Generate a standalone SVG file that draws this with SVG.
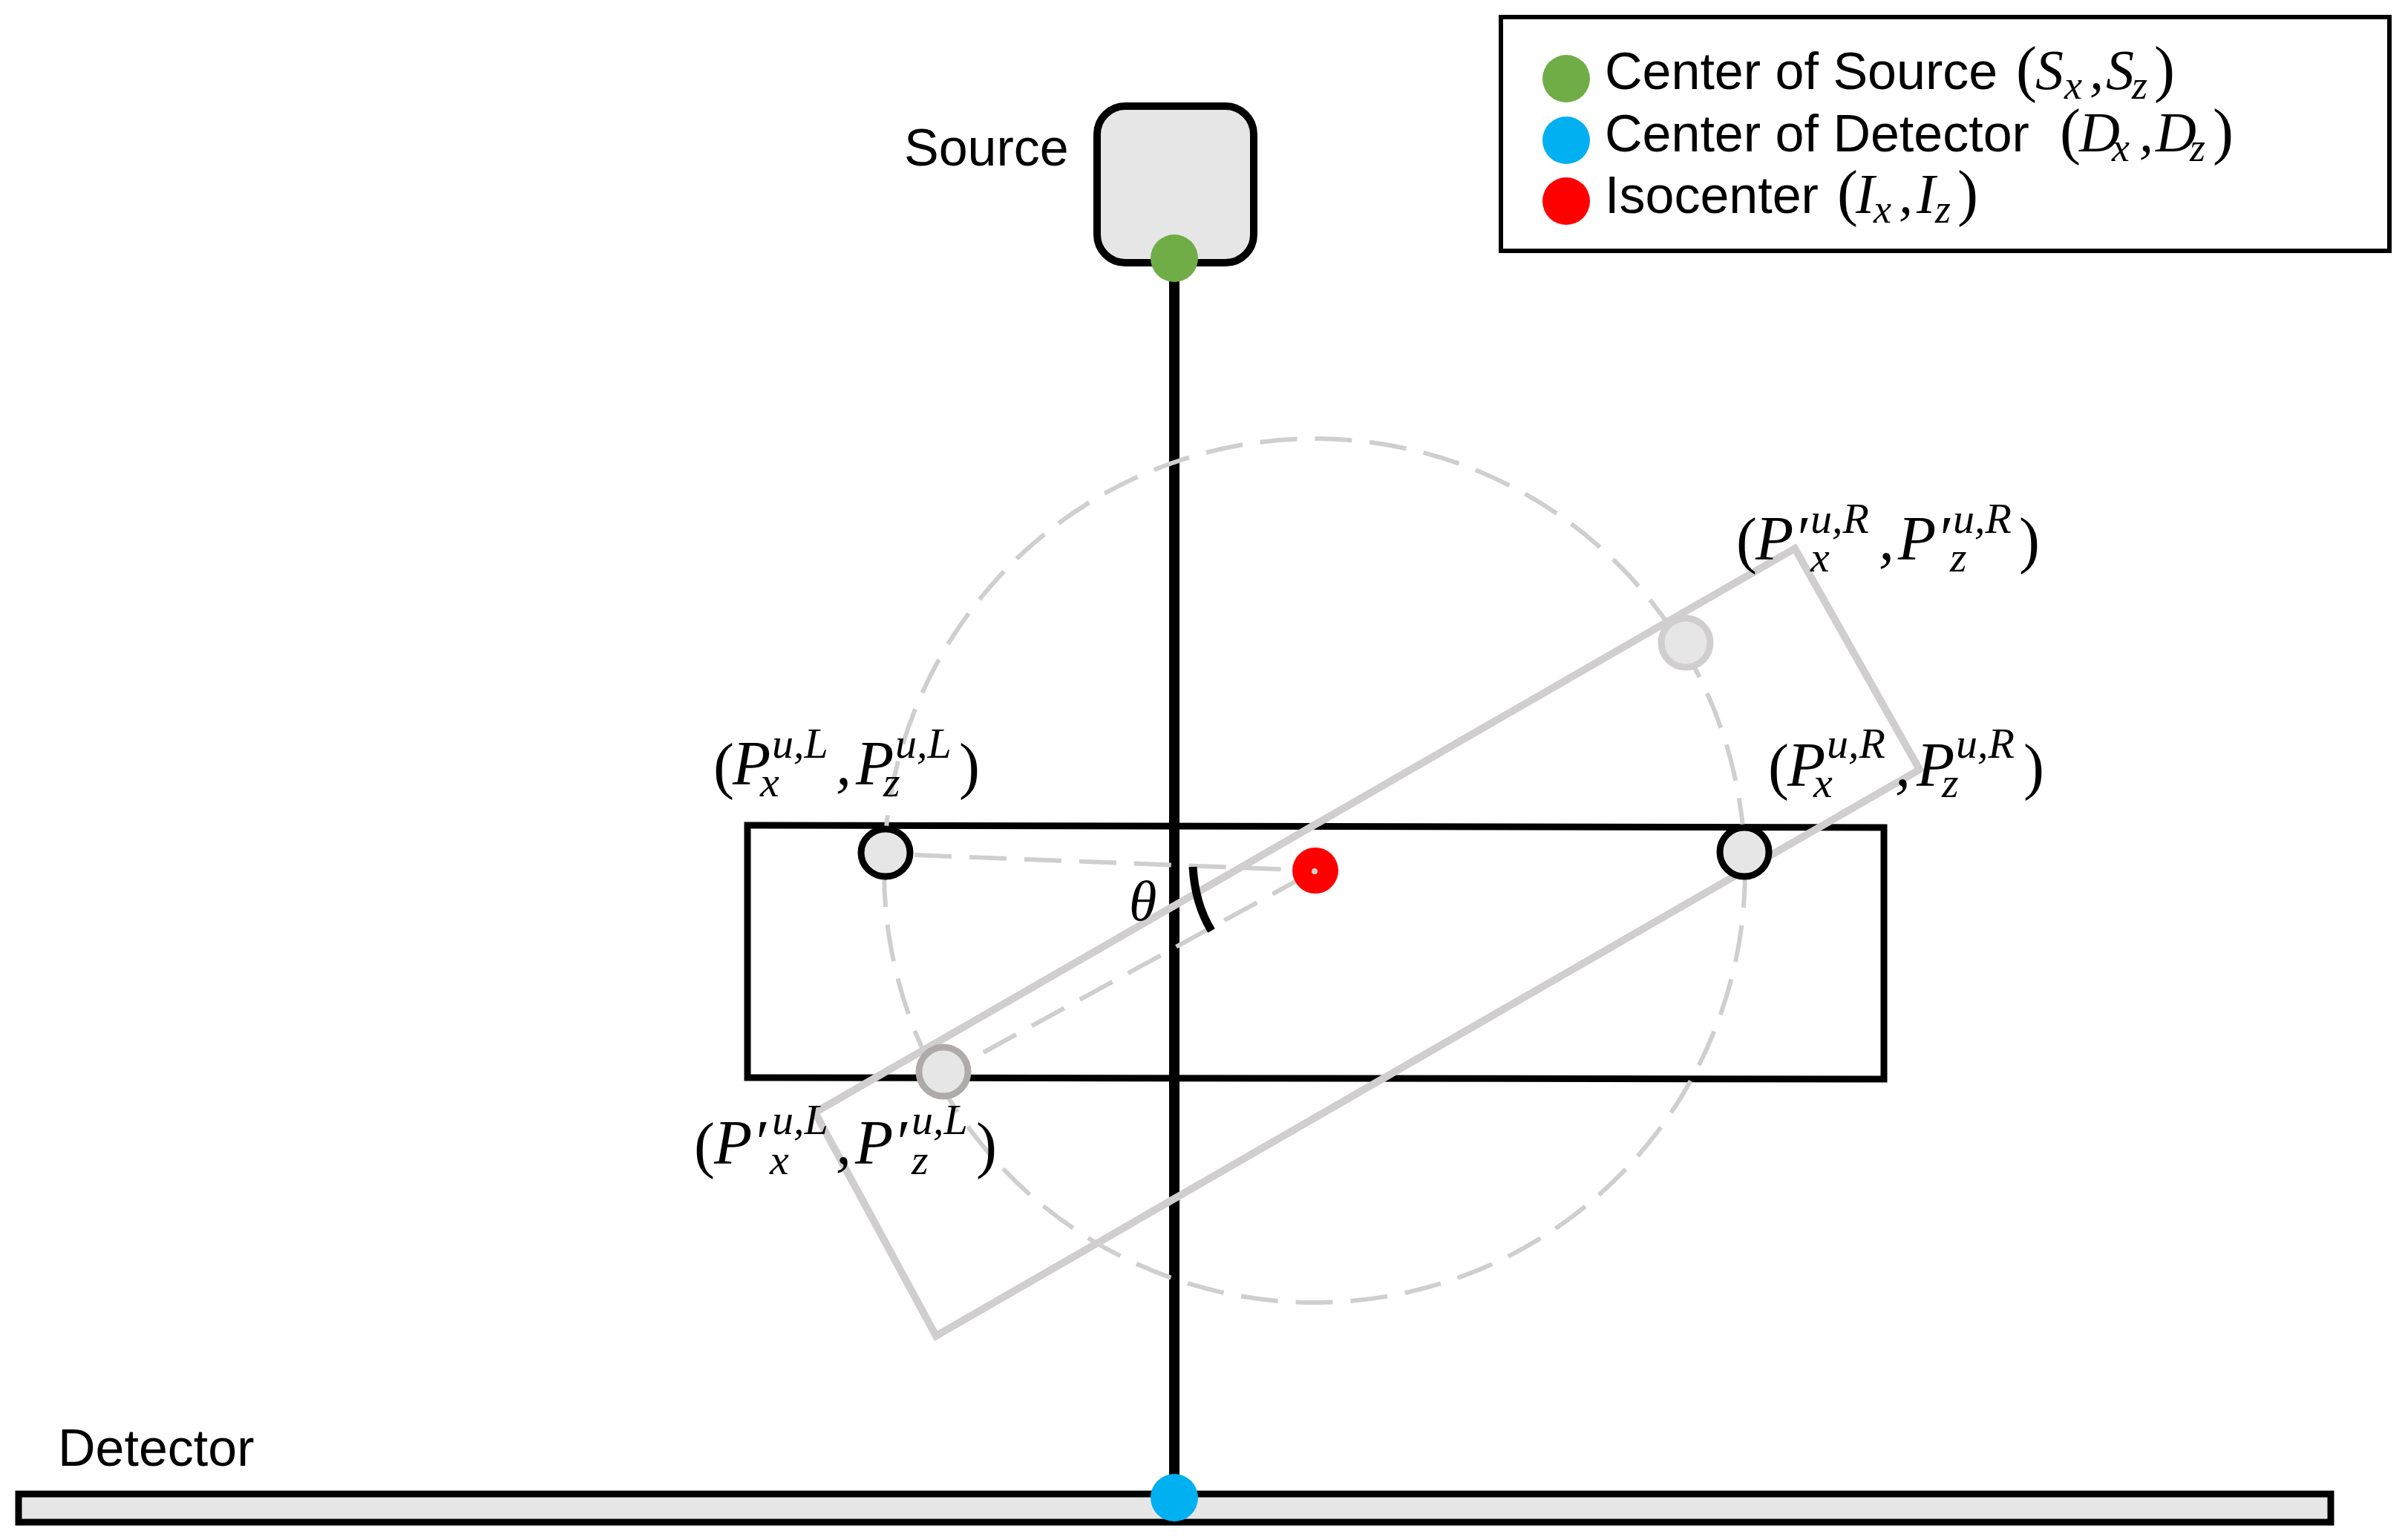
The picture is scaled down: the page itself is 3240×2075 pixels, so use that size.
<svg xmlns="http://www.w3.org/2000/svg" width="3240" height="2075" viewBox="0 0 3240 2075">
<style>
.t{font-family:"Liberation Sans",Arial,sans-serif;font-size:70px;fill:#000}
.m{font-family:"Liberation Serif","Times New Roman",serif;font-style:italic;font-size:84px;fill:#000}
.l{font-size:76px}
.p{font-style:normal;font-size:84px}
.s{font-size:58px}
.u{font-size:54px}
.b{fill:none;stroke:#000;stroke-width:9}
.g{fill:none;stroke:#d0cece;stroke-width:10}
.d{fill:none;stroke:#d0cece;stroke-width:6;stroke-dasharray:50 24}
.n{fill:#e6e6e6;stroke:#000;stroke-width:9}
</style>
<rect width="3240" height="2075" fill="#fff"/>
<g id="connectors">
<line x1="1582" y1="350" x2="1582" y2="2018" stroke="#000" stroke-width="14"/>
<polygon class="b" points="1007,1112 2538,1115 2538,1454 1007,1452"/>
<polygon class="g" points="2418,739 2586,1037 1261,1800 1098,1499"/>
<ellipse class="d" cx="1771" cy="1173" rx="580" ry="582"/>
<line class="d" x1="1232" y1="1152" x2="1772" y2="1173"/>
<line class="d" x1="1325" y1="1418" x2="1772" y2="1173"/>
<path d="M1607,1168 Q1610,1218 1632,1254" fill="none" stroke="#000" stroke-width="11"/>
</g>
<g id="source">
<rect x="1478" y="143" width="211" height="211" rx="38" fill="#e6e6e6" stroke="#000" stroke-width="10"/>
<text class="t" x="1218" y="223">Source</text>
</g>
<g id="detector">
<rect x="25" y="2013" width="3115" height="38" fill="#e6e6e6" stroke="#000" stroke-width="9"/>
<text class="t" x="78" y="1975">Detector</text>
</g>
<g id="point-left"><ellipse class="n" cx="1193" cy="1149" rx="33" ry="32"/></g>
<g id="point-right"><ellipse class="n" cx="2350" cy="1148" rx="33" ry="33"/></g>
<g id="point-left-rotated"><ellipse cx="1271" cy="1444" rx="33" ry="33" fill="#e6e6e6" stroke="#afabab" stroke-width="9"/></g>
<g id="point-right-rotated"><ellipse cx="2271" cy="866" rx="33" ry="33" fill="#e6e6e6" stroke="#d0cece" stroke-width="9"/></g>
<g id="source-center"><circle cx="1582" cy="348" r="32" fill="#70ad47"/></g>
<g id="detector-center"><circle cx="1582" cy="2018" r="32" fill="#00b0f0"/></g>
<g id="isocenter"><circle cx="1772" cy="1173" r="31" fill="#f00"/><circle cx="1771" cy="1174" r="4" fill="#d0cece"/></g>
<g id="theta"><text class="m l" x="1521" y="1240">θ</text></g>
<g id="legend">
<rect x="2022" y="23" width="1197" height="315" fill="#fff" stroke="#000" stroke-width="6"/>
<circle cx="2110" cy="106" r="32" fill="#70ad47"/>
<circle cx="2110" cy="189" r="32" fill="#00b0f0"/>
<circle cx="2110" cy="271" r="32" fill="#f00"/>
<text class="t" x="2162" y="120">Center of Source</text>
<text class="t" x="2162" y="204">Center of Detector</text>
<text class="t" x="2162" y="287">Isocenter</text>
<text class="m l"><tspan class="p" x="2716" y="121">(</tspan><tspan x="2742" y="120">S</tspan><tspan class="u" x="2781" y="133">x</tspan><tspan x="2815" y="120">,</tspan><tspan x="2837" y="120">S</tspan><tspan class="u" x="2872" y="133">z</tspan><tspan class="p" x="2902" y="121">)</tspan></text>
<text class="m l"><tspan class="p" x="2775" y="205">(</tspan><tspan x="2801" y="204">D</tspan><tspan class="u" x="2845" y="217">x</tspan><tspan x="2882" y="204">,</tspan><tspan x="2904" y="204">D</tspan><tspan class="u" x="2950" y="217">z</tspan><tspan class="p" x="2981" y="205">)</tspan></text>
<text class="m l"><tspan class="p" x="2475" y="288">(</tspan><tspan x="2500" y="287">I</tspan><tspan class="u" x="2524" y="300">x</tspan><tspan x="2558" y="287">,</tspan><tspan x="2582" y="287">I</tspan><tspan class="u" x="2607" y="300">z</tspan><tspan class="p" x="2637" y="288">)</tspan></text>
</g>
<g id="label-left">
<text class="m"><tspan class="p" x="961" y="1060">(</tspan><tspan x="987" y="1057">P</tspan><tspan class="s" x="1040" y="1021">u,L</tspan><tspan class="s" x="1024" y="1073">x</tspan><tspan x="1126" y="1057">,</tspan><tspan x="1153" y="1057">P</tspan><tspan class="s" x="1206" y="1021">u,L</tspan><tspan class="s" x="1190" y="1073">z</tspan><tspan class="p" x="1292" y="1060">)</tspan></text>
</g>
<g id="label-left-rotated">
<text class="m"><tspan class="p" x="935" y="1571">(</tspan><tspan x="962" y="1568">P′</tspan><tspan class="s" x="1040" y="1528">u,L</tspan><tspan class="s" x="1037" y="1582">x</tspan><tspan x="1126" y="1568">,</tspan><tspan x="1152" y="1568">P′</tspan><tspan class="s" x="1228" y="1528">u,L</tspan><tspan class="s" x="1228" y="1582">z</tspan><tspan class="p" x="1315" y="1571">)</tspan></text>
</g>
<g id="label-right-rotated">
<text class="m"><tspan class="p" x="2339" y="756">(</tspan><tspan x="2365" y="754">P′</tspan><tspan class="s" x="2439" y="718">u,R</tspan><tspan class="s" x="2439" y="770">x</tspan><tspan x="2531" y="754">,</tspan><tspan x="2557" y="754">P′</tspan><tspan class="s" x="2631" y="718">u,R</tspan><tspan class="s" x="2627" y="770">z</tspan><tspan class="p" x="2720" y="756">)</tspan></text>
</g>
<g id="label-right">
<text class="m"><tspan class="p" x="2382" y="1061">(</tspan><tspan x="2408" y="1059">P</tspan><tspan class="s" x="2461" y="1021">u,R</tspan><tspan class="s" x="2443" y="1074">x</tspan><tspan x="2553" y="1059">,</tspan><tspan x="2582" y="1059">P</tspan><tspan class="s" x="2635" y="1021">u,R</tspan><tspan class="s" x="2616" y="1074">z</tspan><tspan class="p" x="2726" y="1061">)</tspan></text>
</g>
</svg>
